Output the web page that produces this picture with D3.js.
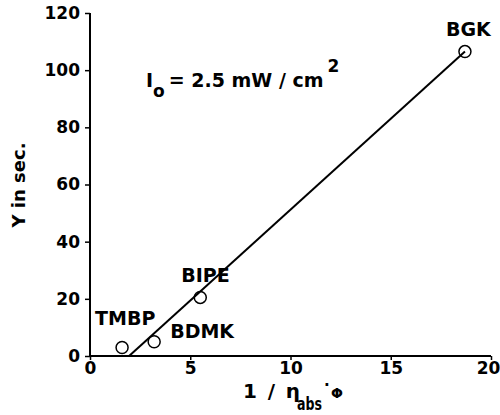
<!DOCTYPE html>
<html>
<head>
<meta charset="utf-8">
<script src="https://cdn.jsdelivr.net/npm/d3@7"></script>
<style>
  html, body { margin: 0; padding: 0; background: #fff; }
  svg text { font-family: "DejaVu Sans", "Liberation Sans", Arial, sans-serif; font-weight: bold; fill: #000; }
</style>
</head>
<body>
<svg id="chart" width="500" height="415"></svg>
<script>
// Measured compounds: inverse absorbed quantum yield vs. induction time
const compounds = ["TMBP", "BDMK", "BIPE", "BGK"];
const invEtaPhi = [1.6, 3.2, 5.5, 18.7];
const timeSec = [3, 5, 20.5, 106.5];

// Linear fit through the points
const fitX = [1.95, 18.7];
const fitY = [0, 106.5];

const xTicks = [0, 5, 10, 15, 20];
const yTicks = [0, 20, 40, 60, 80, 100, 120];

const svg = d3.select("#chart");

const x = d3.scaleLinear().domain([0, 20]).range([90, 491]);
const y = d3.scaleLinear().domain([0, 120]).range([356, 13]);

// Axes
const xAxis = d3.axisBottom(x).tickValues(xTicks).tickSize(4).tickPadding(2).tickFormat(d3.format("d"));
const yAxis = d3.axisLeft(y).tickValues(yTicks).tickSize(5).tickPadding(5).tickFormat(d3.format("d"));

const gx = svg.append("g").attr("transform", `translate(0,${y(0)})`).call(xAxis);
const gy = svg.append("g").attr("transform", `translate(${x(0)},0)`).call(yAxis);

[gx, gy].forEach(g => {
  g.select(".domain").attr("stroke", "#000").attr("stroke-width", 2);
  g.selectAll(".tick line").attr("stroke", "#000").attr("stroke-width", 1.5);
  g.selectAll(".tick text").attr("font-size", 17).attr("fill", "#000");
});
// plain axis lines without end caps
gx.select(".domain").attr("d", `M${x(0)},0H${x(20)}`);
gy.select(".domain").attr("d", `M0,${y(0)}V${y(120)}`);
// keep the last x label inside the frame
gx.selectAll(".tick text").filter(d => d === 20).attr("dx", -3);

// Fit line
svg.append("path")
  .datum(fitX.map((v, i) => [v, fitY[i]]))
  .attr("fill", "none")
  .attr("stroke", "#000")
  .attr("stroke-width", 2)
  .attr("d", d3.line().x(d => x(d[0])).y(d => y(d[1])));

// Data points
svg.selectAll("circle.pt")
  .data(compounds.map((c, i) => ({ c, xv: invEtaPhi[i], yv: timeSec[i] })))
  .join("circle")
  .attr("class", "pt")
  .attr("cx", d => x(d.xv))
  .attr("cy", d => y(d.yv))
  .attr("r", 6)
  .attr("fill", "none")
  .attr("stroke", "#000")
  .attr("stroke-width", 1.5);

// Point labels (offsets relative to each point)
const labelDx = [-27, 16, -19, -19];
const labelDy = [-22, -4, -15, -16];
svg.selectAll("text.lbl")
  .data(compounds.map((c, i) => ({ c, xv: invEtaPhi[i], yv: timeSec[i], dx: labelDx[i], dy: labelDy[i] })))
  .join("text")
  .attr("class", "lbl")
  .attr("x", d => x(d.xv) + d.dx)
  .attr("y", d => y(d.yv) + d.dy)
  .attr("font-size", 19)
  .text(d => d.c);

// Irradiance annotation
const ann = svg.append("text").attr("x", 146).attr("y", 87).attr("font-size", 19);
ann.append("tspan").text("I");
ann.append("tspan").attr("font-size", 17).attr("dy", 10).text("o");
ann.append("tspan").attr("dy", -10).attr("dx", 4).text("=  2.5 mW / cm");
ann.append("tspan").attr("font-size", 17).attr("dy", -15).attr("dx", 4).text("2");

// Axis titles
svg.append("text").attr("x", 243).attr("y", 398).attr("font-size", 20)
  .attr("textLength", 57).attr("lengthAdjust", "spacing").text("1 / η");
svg.append("text").attr("x", 297).attr("y", 410).attr("font-size", 17)
  .attr("textLength", 25).attr("lengthAdjust", "spacingAndGlyphs").text("abs");
svg.append("text").attr("x", 324).attr("y", 390).attr("font-size", 15).text("·");
svg.append("text").attr("x", 331).attr("y", 398).attr("font-size", 14).text("Φ");

svg.append("text")
  .attr("transform", "translate(25,185) rotate(-90)")
  .attr("text-anchor", "middle")
  .attr("font-size", 18)
  .text("Y in sec.");
</script>
</body>
</html>
